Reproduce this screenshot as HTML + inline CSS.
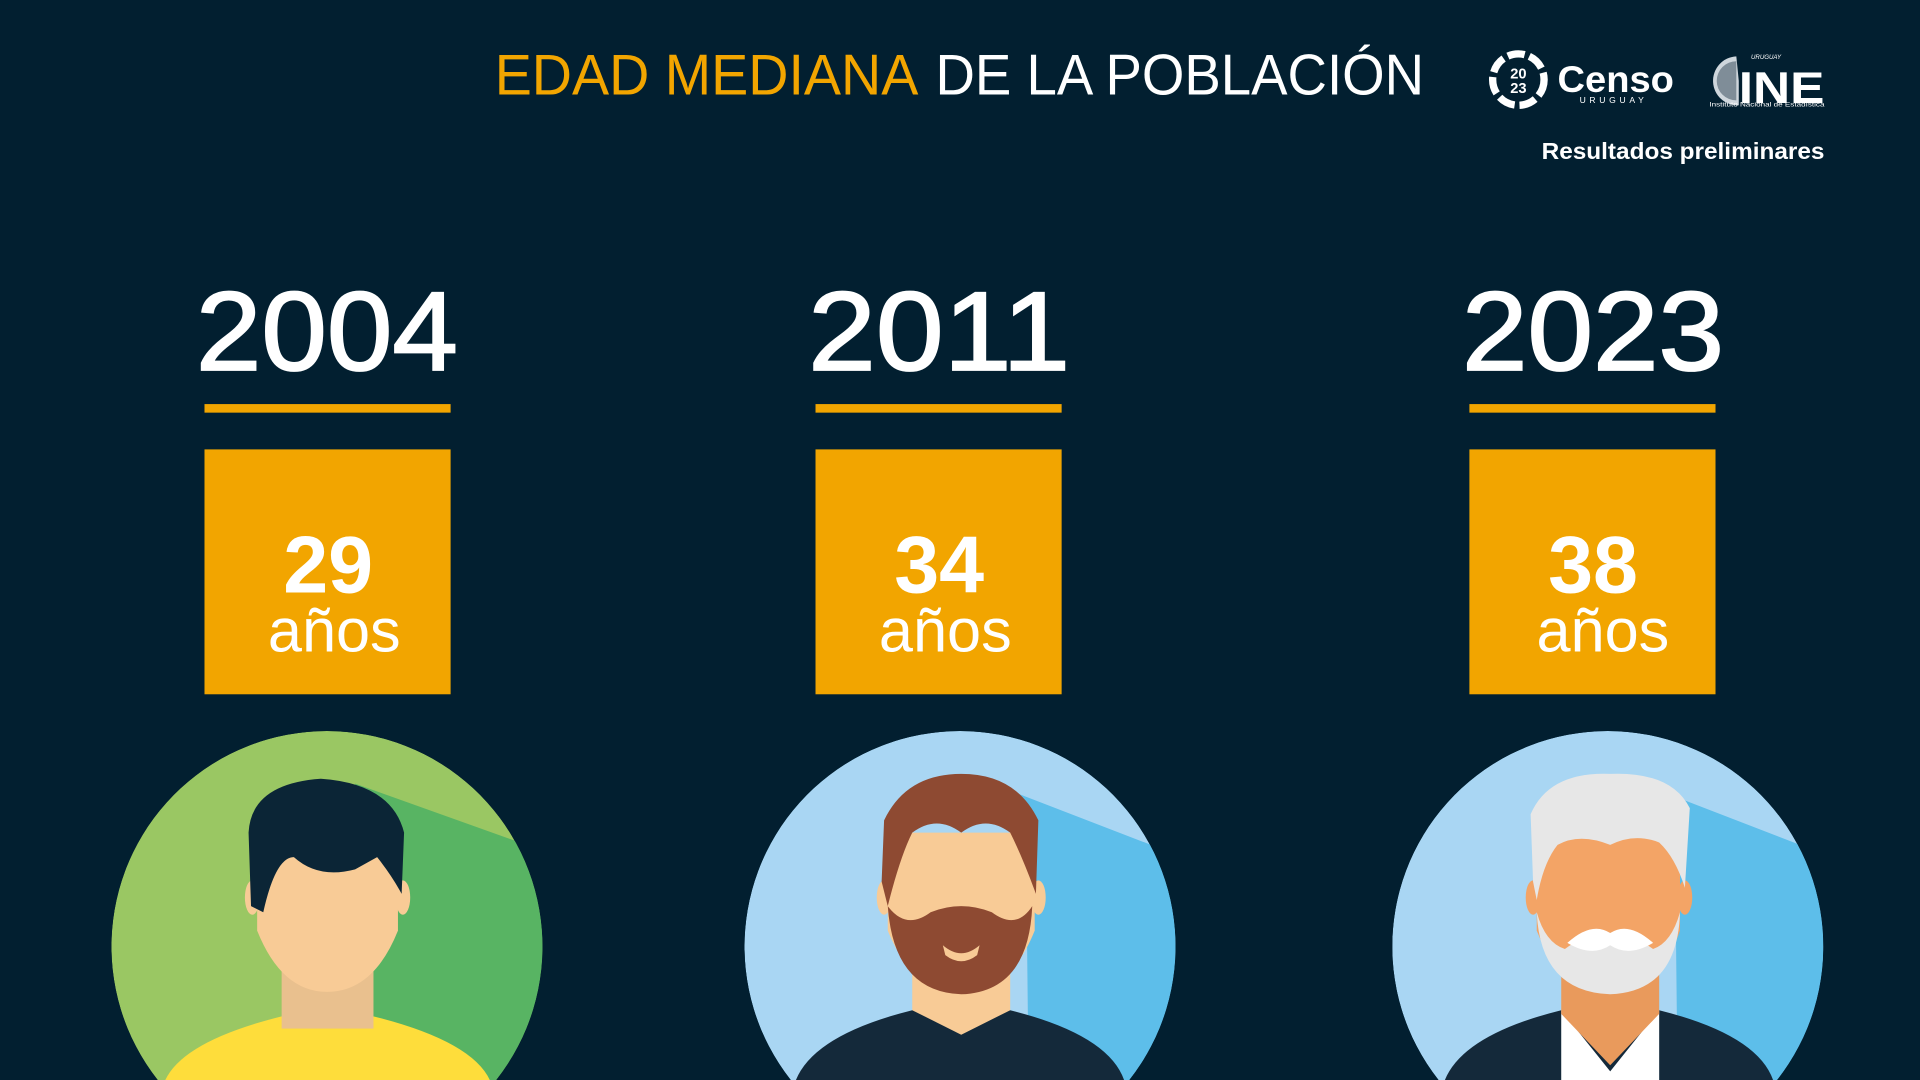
<!DOCTYPE html>
<html><head><meta charset="utf-8"><style>
html,body{margin:0;padding:0;background:#021f30;width:1920px;height:1080px;overflow:hidden;}
svg{display:block}
text{font-family:"Liberation Sans",sans-serif}
</style></head><body>
<svg width="1920" height="1080" viewBox="0 0 1568 882" preserveAspectRatio="none" xmlns="http://www.w3.org/2000/svg">
<rect width="1568" height="882" fill="#021f30"/>
<defs>
<clipPath id="c1"><path d="M128.8 882 A176 176 0 1 1 405.2 882 Z"/></clipPath>
<clipPath id="c2"><path d="M645.8 882 A176 176 0 1 1 922.2 882 Z"/></clipPath>
<clipPath id="c3"><path d="M1174.8 882 A176 176 0 1 1 1451.2 882 Z"/></clipPath>
</defs>
<text x="404" y="77" font-size="47" fill="#f2a500" textLength="346" lengthAdjust="spacingAndGlyphs">EDAD MEDIANA</text>
<text x="764" y="77" font-size="47" fill="#fff" textLength="399" lengthAdjust="spacingAndGlyphs">DE LA POBLACIÓN</text>
<circle cx="1240" cy="65" r="21" fill="none" stroke="#fff" stroke-width="6" stroke-dasharray="14 4"/>
<text x="1240" y="64" font-size="12" font-weight="bold" fill="#fff" text-anchor="middle">20</text>
<text x="1240" y="76" font-size="12" font-weight="bold" fill="#fff" text-anchor="middle">23</text>
<text x="1272" y="75" font-size="30" font-weight="bold" fill="#fff" textLength="95" lengthAdjust="spacingAndGlyphs">Censo</text>
<text x="1290" y="84" font-size="7" fill="#fff" letter-spacing="3">URUGUAY</text>
<path d="M1418 46 A20 20 0 1 0 1420 86 L1420 66 Z" fill="#cfd6dc"/>
<path d="M1418 50 L1418 82 A16 16 0 0 1 1418 50 Z" fill="#7f8d98"/>
<text x="1420" y="84" font-size="36" font-weight="bold" fill="#fff" textLength="70" lengthAdjust="spacingAndGlyphs">INE</text>
<text x="1430" y="48" font-size="5" font-style="italic" fill="#fff">URUGUAY</text>
<text x="1396" y="87" font-size="5" fill="#fff" textLength="94" lengthAdjust="spacingAndGlyphs">Instituto Nacional de Estadística</text>
<text x="1490" y="130" font-size="19" font-weight="bold" fill="#fff" text-anchor="end" textLength="231" lengthAdjust="spacingAndGlyphs">Resultados preliminares</text>

<g font-size="92" fill="#fff" stroke="#fff" stroke-width="1.5" text-anchor="middle">
<text x="267" y="302" textLength="214" lengthAdjust="spacingAndGlyphs">2004</text>
<text x="767" y="302" textLength="214" lengthAdjust="spacingAndGlyphs">2011</text>
<text x="1301" y="302" textLength="214" lengthAdjust="spacingAndGlyphs">2023</text>
</g>
<g fill="#f2a500">
<rect x="167" y="330" width="201" height="7"/><rect x="666" y="330" width="201" height="7"/><rect x="1200" y="330" width="201" height="7"/>
<rect x="167" y="367" width="201" height="200"/><rect x="666" y="367" width="201" height="200"/><rect x="1200" y="367" width="201" height="200"/>
</g>
<g fill="#fff" text-anchor="middle">
<text x="268" y="484" font-size="66" font-weight="bold">29</text>
<text x="767" y="484" font-size="66" font-weight="bold">34</text>
<text x="1301" y="484" font-size="66" font-weight="bold">38</text>
<text x="273" y="532" font-size="50">años</text>
<text x="772" y="532" font-size="50">años</text>
<text x="1309" y="532" font-size="50">años</text>
</g>

<g clip-path="url(#c1)">
<path d="M128.8 882 A176 176 0 1 1 405.2 882 Z" fill="#9ac763"/>
<polygon points="290,640 430,690 444,700 444,882 300,882 300,700" fill="#58b463"/>
<path d="M135 882 Q150 850 230 830 L305 830 Q385 850 400 882 Z" fill="#fedd3b"/>
<rect x="230" y="760" width="75" height="80" fill="#e9c08e"/>
<ellipse cx="206" cy="733" rx="6" ry="14" fill="#f8cb96"/>
<ellipse cx="329" cy="733" rx="6" ry="14" fill="#f8cb96"/>
<path d="M210 690 L210 760 Q230 810 267 810 Q305 810 325 760 L325 690 Z" fill="#f8cb96"/>
<path d="M205 740 L203 680 Q205 640 262 636 Q320 640 330 680 L328 730 Q320 715 308 700 L290 710 Q260 718 240 700 Q225 700 215 745 Z" fill="#0b2536"/>
</g>

<g clip-path="url(#c2)">
<path d="M645.8 882 A176 176 0 1 1 922.2 882 Z" fill="#a9d6f3"/>
<polygon points="800,636 940,690 961,700 961,882 840,882 838,700" fill="#5dbeea"/>
<path d="M650 882 Q665 845 745 825 L825 825 Q905 845 918 882 Z" fill="#14293a"/>
<path d="M745 825 L785 845 L825 825 L825 790 L745 790 Z" fill="#f8cb96"/>
<ellipse cx="722" cy="733" rx="6" ry="14" fill="#f8cb96"/>
<ellipse cx="848" cy="733" rx="6" ry="14" fill="#f8cb96"/>
<path d="M725 680 L725 760 Q745 810 785 810 Q825 810 845 760 L845 680 Z" fill="#f8cb96"/>
<path d="M720 720 L722 670 Q740 632 785 632 Q830 632 848 670 L846 730 Q835 700 825 680 Q805 665 785 680 Q765 665 745 680 Q735 700 725 740 Z" fill="#8e4a32"/>
<path d="M725 740 Q730 810 785 812 Q840 810 843 740 Q830 760 810 745 Q785 735 760 745 Q740 760 725 740 Z M770 772 Q785 785 800 772 L798 780 Q785 790 772 780 Z" fill="#8e4a32" fill-rule="evenodd"/>
</g>

<g clip-path="url(#c3)">
<path d="M1174.8 882 A176 176 0 1 1 1451.2 882 Z" fill="#a9d6f3"/>
<polygon points="1330,636 1470,690 1489,700 1489,882 1370,882 1368,700" fill="#5dbeea"/>
<path d="M1180 882 Q1195 845 1275 825 L1355 825 Q1435 845 1448 882 Z" fill="#14293a"/>
<path d="M1275 825 L1315 875 L1355 825 L1355 882 L1275 882 Z" fill="#fff"/>
<path d="M1275 828 L1315 870 L1355 828 L1355 790 L1275 790 Z" fill="#e99a5c"/>
<ellipse cx="1252" cy="733" rx="6" ry="14" fill="#f3a466"/>
<ellipse cx="1376" cy="733" rx="6" ry="14" fill="#f3a466"/>
<path d="M1255 680 L1255 760 Q1275 810 1315 810 Q1355 810 1372 760 L1372 680 Z" fill="#f3a466"/>
<path d="M1252 720 L1250 665 Q1265 630 1315 632 Q1365 630 1380 660 L1376 725 Q1368 700 1355 688 Q1335 680 1315 690 Q1290 680 1272 690 Q1260 705 1255 735 Z" fill="#e7e7e7"/>
<path d="M1255 745 Q1258 810 1315 812 Q1370 810 1372 745 Q1365 770 1350 775 Q1330 760 1315 765 Q1298 760 1278 775 Q1262 770 1255 745 Z" fill="#e7e7e7"/>
<path d="M1280 770 Q1300 752 1315 762 Q1330 752 1350 770 Q1330 782 1315 772 Q1300 782 1280 770 Z" fill="#fff"/>
</g>
</svg>
</body></html>
